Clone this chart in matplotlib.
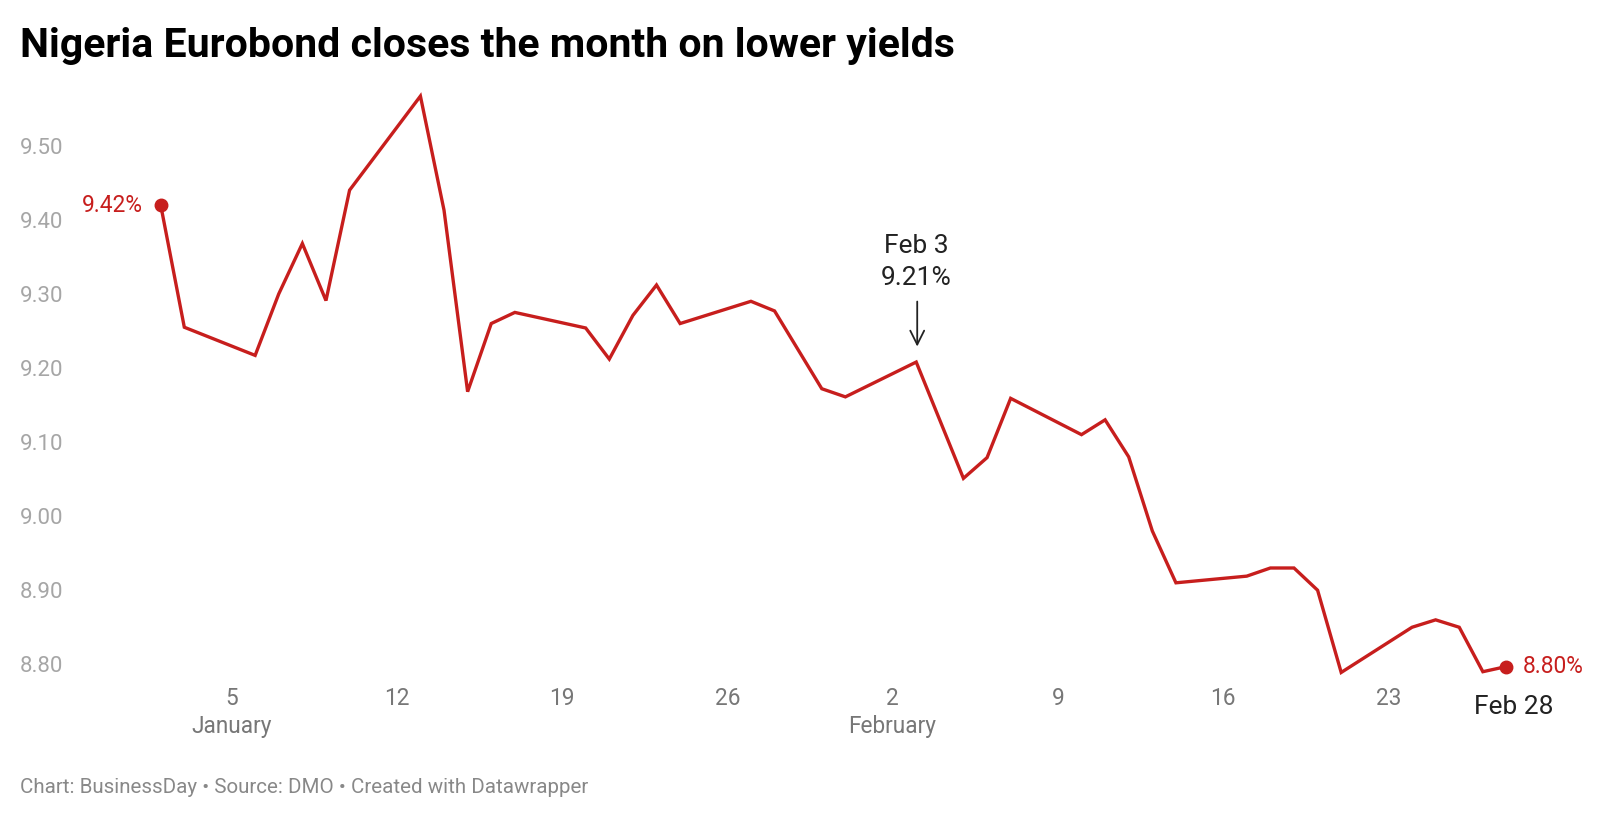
import matplotlib
matplotlib.use("Agg")
import matplotlib.pyplot as plt
import matplotlib.dates as mdates
import matplotlib.transforms as mtransforms
from datetime import datetime, timedelta

# ---- data ----
dates = ["2023-01-02", "2023-01-03", "2023-01-06", "2023-01-07", "2023-01-08", "2023-01-09",
         "2023-01-10", "2023-01-13", "2023-01-14", "2023-01-15", "2023-01-16", "2023-01-17",
         "2023-01-20", "2023-01-21", "2023-01-22", "2023-01-23", "2023-01-24", "2023-01-27",
         "2023-01-28", "2023-01-30", "2023-01-31", "2023-02-03", "2023-02-05", "2023-02-06",
         "2023-02-07", "2023-02-10", "2023-02-11", "2023-02-12", "2023-02-13", "2023-02-14",
         "2023-02-17", "2023-02-18", "2023-02-19", "2023-02-20", "2023-02-21", "2023-02-24",
         "2023-02-25", "2023-02-26", "2023-02-27", "2023-02-28"]
yields = [9.42, 9.255, 9.217, 9.30, 9.368, 9.291,
          9.44, 9.567, 9.413, 9.168, 9.26, 9.275,
          9.254, 9.212, 9.271, 9.312, 9.26, 9.29,
          9.277, 9.172, 9.161, 9.208, 9.051, 9.079,
          9.159, 9.11, 9.13, 9.08, 8.98, 8.91,
          8.919, 8.93, 8.93, 8.90, 8.789, 8.85,
          8.86, 8.85, 8.79, 8.797]
ytick_values = [8.80, 8.90, 9.00, 9.10, 9.20, 9.30, 9.40, 9.50]
xtick_dates = ["2023-01-05", "2023-01-12", "2023-01-19", "2023-01-26",
               "2023-02-02", "2023-02-09", "2023-02-16", "2023-02-23"]
xtick_labels = ["5", "12", "19", "26", "2", "9", "16", "23"]
month_labels = {"2023-01-05": "January", "2023-02-02": "February"}

title = "Nigeria Eurobond closes the month on lower yields"
footer = "Chart: BusinessDay \u2022 Source: DMO \u2022 Created with Datawrapper"

RED = "#c71e1d"
plt.rcParams["font.family"] = ["Roboto", "DejaVu Sans"]

x = [datetime.strptime(d, "%Y-%m-%d") for d in dates]
xt = [datetime.strptime(d, "%Y-%m-%d") for d in xtick_dates]

W, H = 1600, 819
fig = plt.figure(figsize=(W / 100, H / 100), dpi=100)
L, R, T, B = 75, 1530, 80, 672
ax = fig.add_axes([L / W, (H - B) / H, (R - L) / W, (B - T) / H])

# axis limits (pixel mapping: Jan 2 at x=160.7, 23.61 px/day; 8.80 at y=664.3, 740.8 px/unit)
x0 = mdates.date2num(x[0])
ax.set_xlim(x0 + (L - 160.7) / 23.61, x0 + (R - 160.7) / 23.61)
ax.set_ylim(8.80 - (B - 664.3) / 740.8, 8.80 + (664.3 - T) / 740.8)

ax.plot(x, yields, color=RED, lw=2.4, solid_joinstyle="miter", clip_on=False, zorder=3)
ax.plot([x[0], x[-1]], [yields[0], yields[-1]], "o", color=RED, ms=9, clip_on=False, zorder=4)

for s in ax.spines.values():
    s.set_visible(False)
ax.set_yticks(ytick_values)
ax.set_yticklabels([f"{v:.2f}" for v in ytick_values])
ax.tick_params(axis="y", length=0, pad=8.5, labelsize=16, labelcolor="#a6a6a6")
ax.set_xticks(xt)
ax.set_xticklabels(xtick_labels)
ax.tick_params(axis="x", length=0, pad=11, labelsize=16.3, labelcolor="#777777")

for d, m in month_labels.items():
    ax.annotate(m, xy=(datetime.strptime(d, "%Y-%m-%d"), 0), xycoords=("data", "axes fraction"),
                xytext=(0, -61), textcoords="offset pixels", ha="center", va="baseline",
                fontsize=16.3, color="#777777")

# annotations
ax.annotate(f"{yields[0]:.2f}%", xy=(x[0], yields[0]), xytext=(-18, 0), textcoords="offset pixels",
            ha="right", va="center", fontsize=16.4, color=RED)
ax.annotate(f"{yields[-1]:.2f}%", xy=(x[-1], yields[-1]), xytext=(16, 0), textcoords="offset pixels",
            ha="left", va="center", fontsize=16.4, color=RED)
ax.annotate("Feb 28", xy=(x[-1], yields[-1]), xytext=(7, -47), textcoords="offset pixels",
            ha="center", va="baseline", fontsize=19, color="#222222")

i3 = dates.index("2023-02-03")
ax.annotate("Feb 3", xy=(x[i3], yields[i3]), xytext=(0, 109), textcoords="offset pixels",
            ha="center", va="baseline", fontsize=19, color="#222222")
ax.annotate(f"{yields[i3]:.2f}%", xy=(x[i3], yields[i3]), xytext=(0, 77), textcoords="offset pixels",
            ha="center", va="baseline", fontsize=19, color="#222222")
tip = mtransforms.offset_copy(ax.transData, fig=fig, x=1, y=15.5, units="dots")
ax.annotate("", xy=(mdates.date2num(x[i3]), yields[i3]), xycoords=tip, xytext=(0, 45),
            textcoords="offset pixels",
            arrowprops=dict(arrowstyle="->,head_length=0.5,head_width=0.25", lw=1.3,
                            color="#222222", shrinkA=0, shrinkB=0, mutation_scale=20))

fig.text(20 / W, 1 - 57 / H, title, fontsize=29.5, fontweight="bold", color="#000000",
         ha="left", va="baseline")
fig.text(20 / W, 1 - 793 / H, footer, fontsize=14.8, color="#888888", ha="left", va="baseline")

fig.savefig("out.png", dpi=100, facecolor="white")
